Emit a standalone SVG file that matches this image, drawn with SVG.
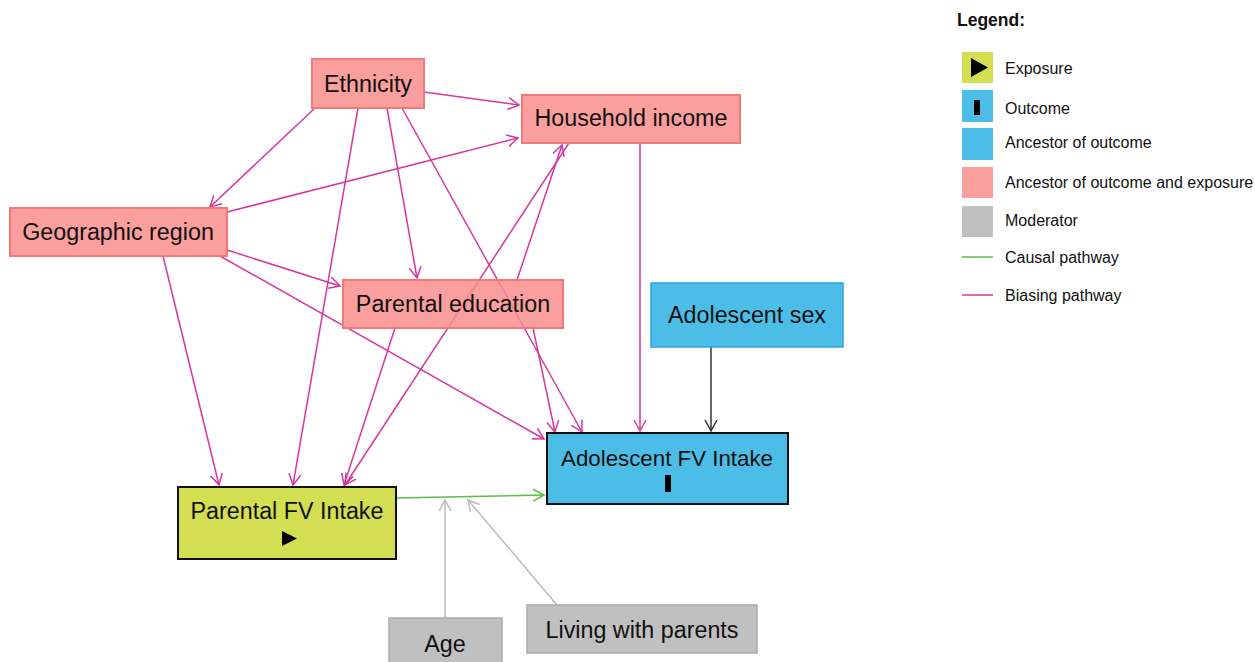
<svg xmlns="http://www.w3.org/2000/svg" width="1255" height="662" viewBox="0 0 1255 662">
<style>
text{font-family:"Liberation Sans",Arial,sans-serif;fill:#111}
.nt{font-size:23.3px;text-anchor:middle}
.lt{font-size:16px}
.pink{fill:#F98D8D;fill-opacity:0.85;stroke:#F37878;stroke-width:2}
.blue{fill:#4BBDE6;stroke:#2BA6DC;stroke-width:1.5}
.outc{fill:#4BBDE6;stroke:#111;stroke-width:2}
.expo{fill:#D3DE52;stroke:#111;stroke-width:2}
.gray{fill:#C0C0C0;stroke:#ABABAB;stroke-width:1.5}
.bias{stroke:#D4389F;stroke-width:1.5;fill:none;marker-end:url(#mb)}
.caus{stroke:#5DBB46;stroke-width:1.5;fill:none;marker-end:url(#mc)}
.mod{stroke:#BBBBBB;stroke-width:1.5;fill:none;marker-end:url(#mg)}
.blk{stroke:#333;stroke-width:1.5;fill:none;marker-end:url(#mk)}
</style>
<defs>
<marker id="mb" markerUnits="userSpaceOnUse" markerWidth="14" markerHeight="14" refX="11" refY="6" orient="auto" viewBox="0 0 14 12"><path d="M0,0 L11,6 L0,12" fill="none" stroke="#D4389F" stroke-width="1.5"/></marker>
<marker id="mc" markerUnits="userSpaceOnUse" markerWidth="14" markerHeight="14" refX="11" refY="6" orient="auto" viewBox="0 0 14 12"><path d="M0,0 L11,6 L0,12" fill="none" stroke="#5DBB46" stroke-width="1.5"/></marker>
<marker id="mg" markerUnits="userSpaceOnUse" markerWidth="14" markerHeight="14" refX="11" refY="6" orient="auto" viewBox="0 0 14 12"><path d="M0,0 L11,6 L0,12" fill="none" stroke="#BBBBBB" stroke-width="1.5"/></marker>
<marker id="mk" markerUnits="userSpaceOnUse" markerWidth="14" markerHeight="14" refX="11" refY="6" orient="auto" viewBox="0 0 14 12"><path d="M0,0 L11,6 L0,12" fill="none" stroke="#333" stroke-width="1.5"/></marker>
</defs>
<rect width="1255" height="662" fill="#fff"/>
<g id="connectors">
<line class="bias" x1="424" y1="92" x2="519" y2="105"/>
<line class="bias" x1="315" y1="108" x2="210" y2="207"/>
<line class="bias" x1="358" y1="108" x2="293" y2="485"/>
<line class="bias" x1="387" y1="108" x2="417" y2="278"/>
<line class="bias" x1="402" y1="108" x2="582" y2="432"/>
<line class="bias" x1="227" y1="212" x2="518" y2="138"/>
<line class="bias" x1="163" y1="256" x2="219" y2="485"/>
<line class="bias" x1="227" y1="250" x2="340" y2="286"/>
<line class="bias" x1="220" y1="256" x2="544" y2="439"/>
<line class="bias" x1="640" y1="143" x2="640" y2="431"/>
<line class="bias" x1="569" y1="143" x2="345" y2="485"/>
<line class="bias" x1="517" y1="280" x2="562" y2="145"/>
<line class="bias" x1="395" y1="328" x2="344" y2="485"/>
<line class="bias" x1="533" y1="328" x2="555" y2="432"/>
<line class="blk" x1="711" y1="347" x2="711" y2="431"/>
<line class="caus" x1="397" y1="498" x2="544" y2="495"/>
<line class="mod" x1="445" y1="618" x2="445" y2="500"/>
<line class="mod" x1="557" y1="605" x2="468" y2="500"/>
</g>
<g id="ethnicity"><rect class="pink" x="312" y="59" width="112" height="49"/><text class="nt" x="368" y="92">Ethnicity</text></g>
<g id="household-income"><rect class="pink" x="522" y="95" width="218" height="48"/><text class="nt" x="631" y="126">Household income</text></g>
<g id="geographic-region"><rect class="pink" x="10" y="208" width="217" height="48"/><text class="nt" x="118" y="240">Geographic region</text></g>
<g id="parental-education"><rect class="pink" x="343" y="280" width="220" height="48"/><text class="nt" x="453" y="312">Parental education</text></g>
<g id="adolescent-sex"><rect class="blue" x="651" y="283" width="192" height="64"/><text class="nt" x="747" y="323">Adolescent sex</text></g>
<g id="adolescent-fv-intake"><rect class="outc" x="547" y="433" width="241" height="71"/><text class="nt" x="667" y="466" style="font-size:22.3px">Adolescent FV Intake</text><rect x="665" y="475" width="6" height="17" fill="#000"/></g>
<g id="parental-fv-intake"><rect class="expo" x="178" y="487" width="218" height="72"/><text class="nt" x="287" y="519">Parental FV Intake</text><path d="M282,531 L297,538.5 L282,546 Z" fill="#000"/></g>
<g id="age"><rect class="gray" x="389" y="618" width="113" height="50"/><text class="nt" x="445" y="652">Age</text></g>
<g id="living-with-parents"><rect class="gray" x="527" y="605" width="230" height="48"/><text class="nt" x="642" y="638">Living with parents</text></g>
<g id="legend">
<text x="957" y="26" style="font-size:17.5px;font-weight:bold">Legend:</text>
<rect x="962" y="52" width="31" height="31" fill="#D3DE52"/><path d="M971,58 L988,67.5 L971,77 Z" fill="#000"/>
<text class="lt" x="1005" y="74">Exposure</text>
<rect x="962" y="90" width="31" height="32" fill="#4BBDE6"/><rect x="974" y="100" width="6" height="15" fill="#000"/>
<text class="lt" x="1005" y="114">Outcome</text>
<rect x="962" y="128" width="31" height="32" fill="#4BBDE6"/>
<text class="lt" x="1005" y="148">Ancestor of outcome</text>
<rect x="962" y="167" width="31" height="31" fill="#FA9E9E"/>
<text class="lt" x="1005" y="188">Ancestor of outcome and exposure</text>
<rect x="962" y="206" width="31" height="31" fill="#C0C0C0"/>
<text class="lt" x="1005" y="226">Moderator</text>
<line x1="962" y1="257" x2="993" y2="257" stroke="#5DBB46" stroke-width="1.5"/>
<text class="lt" x="1005" y="263">Causal pathway</text>
<line x1="962" y1="295" x2="993" y2="295" stroke="#D4389F" stroke-width="1.5"/>
<text class="lt" x="1005" y="301">Biasing pathway</text>
</g>
</svg>
